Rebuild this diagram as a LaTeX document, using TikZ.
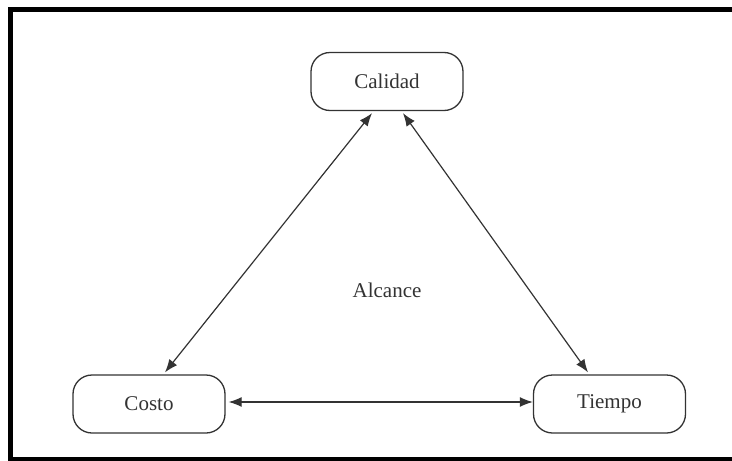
\documentclass[tikz,border=0pt]{standalone}
\usepackage{fontspec}
\setmainfont{Liberation Serif}
\usetikzlibrary{arrows.meta}
\definecolor{ink}{HTML}{333333}
\tikzset{
  box/.style={draw=ink, line width=1.3pt, rounded corners=19pt, minimum width=152pt, minimum height=58pt, inner sep=0pt, text=ink, font=\fontsize{21}{25}\selectfont},
  link/.style={draw=ink, line width=1.2pt, {Latex[length=13pt,width=10pt]}-{Latex[length=13pt,width=10pt]}},
  frame/.style={draw=black, line width=5pt}
}
\begin{document}
\begin{tikzpicture}[x=1pt,y=-1pt]
\useasboundingbox (0,0) rectangle (732,461);
\clip (0,0) rectangle (732,461);
\fill[white] (0,0) rectangle (732,461);
\draw[frame] (10,9.5) rectangle (745,459.5);
\node[box] (cal) at (387,81.5) {Calidad};
\node[box] (cos) at (149,404) {Costo};
\node[box] (tie) at (609.5,404) {Tiempo};
\node[text=ink, font=\fontsize{21}{25}\selectfont] (alc) at (387,290) {Alcance};
\draw[link] ([xshift=-15pt,yshift=-2pt]cal.south) -- ([xshift=16pt,yshift=2pt]cos.north);
\draw[link] ([xshift=16pt,yshift=-2pt]cal.south) -- ([xshift=-21.5pt,yshift=2pt]tie.north);
\draw[link] ([xshift=3pt,yshift=2pt]cos.east) -- ([yshift=2pt]tie.west);
\end{tikzpicture}
\end{document}
